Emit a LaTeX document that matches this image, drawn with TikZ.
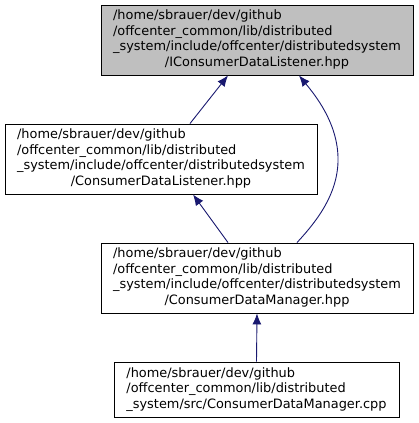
\documentclass[tikz,border=0pt]{standalone}
\usepackage{fontspec}
\setmainfont{DejaVu Sans}
\usetikzlibrary{arrows.meta}
\definecolor{edgeblue}{HTML}{191970}
\definecolor{rootgray}{HTML}{BFBFBF}
\begin{document}
\begin{tikzpicture}[x=1pt,y=-1pt,
  filebox/.style={draw=black, fill=white, line width=0.9pt, inner sep=0pt,
    minimum width=312pt, minimum height=70pt, font=\fontsize{12.9}{15.6}\selectfont},
  rootbox/.style={filebox, fill=rootgray},
  dep/.style={draw=edgeblue, line width=0.9pt, {Latex[length=11pt,width=9pt]}-}]
\useasboundingbox (0,0) rectangle (419,423);
\node[rootbox] (A) at (257,40) {\begin{tabular}{@{}l@{}}/home/sbrauer/dev/github\\/offcenter\_common/lib/distributed\\\_system/include/offcenter/distributedsystem\\\multicolumn{1}{@{}c@{}}{/IConsumerDataListener.hpp}\end{tabular}};
\node[filebox] (B) at (161,159) {\begin{tabular}{@{}l@{}}/home/sbrauer/dev/github\\/offcenter\_common/lib/distributed\\\_system/include/offcenter/distributedsystem\\\multicolumn{1}{@{}c@{}}{/ConsumerDataListener.hpp}\end{tabular}};
\node[filebox] (C) at (257,278) {\begin{tabular}{@{}l@{}}/home/sbrauer/dev/github\\/offcenter\_common/lib/distributed\\\_system/include/offcenter/distributedsystem\\\multicolumn{1}{@{}c@{}}{/ConsumerDataManager.hpp}\end{tabular}};
\node[filebox, minimum width=285pt, minimum height=55pt] (D) at (256.5,389.5) {\begin{tabular}{@{}l@{}}/home/sbrauer/dev/github\\/offcenter\_common/lib/distributed\\\_system/src/ConsumerDataManager.cpp\end{tabular}};
\draw[dep] ([xshift=-29pt]A.south) -- ([xshift=29pt]B.north);
\draw[dep] ([xshift=42pt]A.south) .. controls (315,95) and (337,122) .. (338,157) .. controls (339,192) and (318,220) .. ([xshift=40pt]C.north);
\draw[dep] ([xshift=32pt]B.south) -- ([xshift=-29pt]C.north);
\draw[dep] (C.south) -- (D.north);
\end{tikzpicture}
\end{document}
